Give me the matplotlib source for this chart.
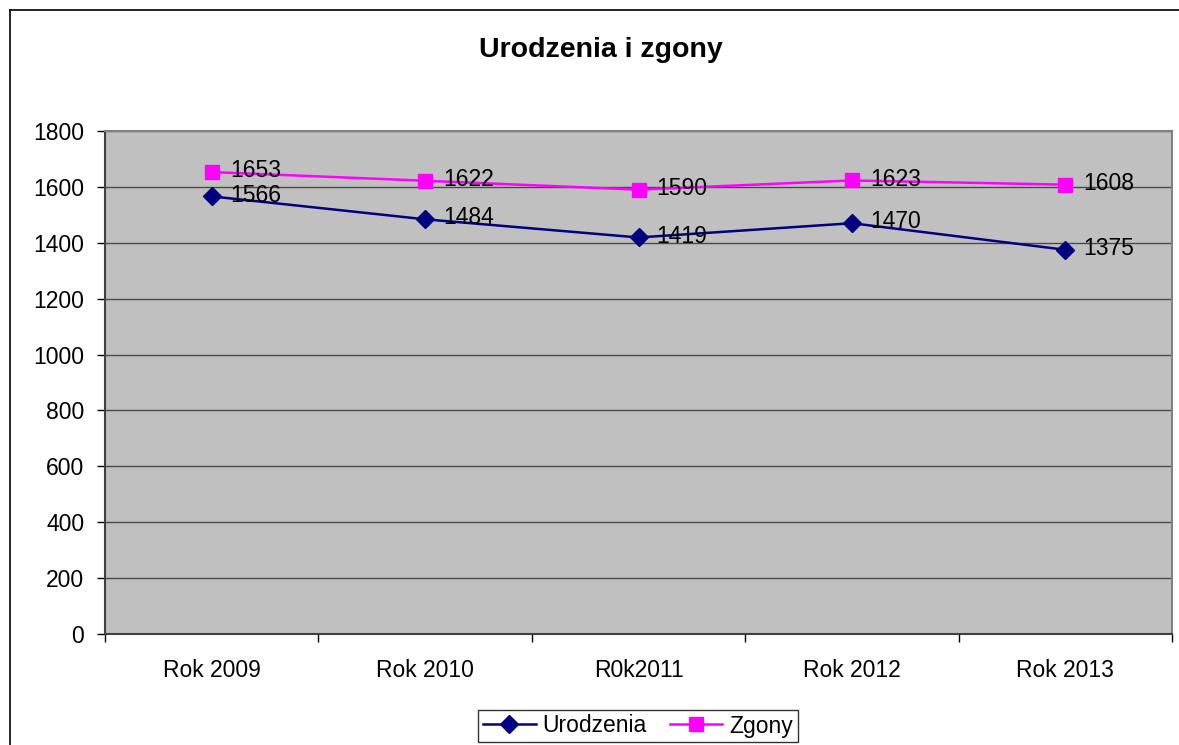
import matplotlib
matplotlib.use("Agg")
import matplotlib.pyplot as plt
from matplotlib.lines import Line2D

plt.rcParams['font.family'] = ['Liberation Sans', 'DejaVu Sans']

categories = ["Rok 2009", "Rok 2010", "R0k2011", "Rok 2012", "Rok 2013"]
urodzenia = [1566, 1484, 1419, 1470, 1375]
zgony = [1653, 1622, 1590, 1623, 1608]
yticks = [0, 200, 400, 600, 800, 1000, 1200, 1400, 1600, 1800]

FS = 16.5
W, H = 1179, 745
fig = plt.figure(figsize=(W / 100, H / 100), dpi=100)
fig.patch.set_facecolor('white')

# outer chart border (left and top visible)
fig.add_artist(Line2D([10 / W, 10 / W], [0, 1 - 10 / H], color='black', lw=1.2, transform=fig.transFigure))
fig.add_artist(Line2D([10 / W, 1], [1 - 10 / H, 1 - 10 / H], color='black', lw=1.2, transform=fig.transFigure))

left, right, top, bottom = 105, 1172, 131, 634
ax = fig.add_axes([left / W, 1 - bottom / H, (right - left) / W, (bottom - top) / H])
ax.set_facecolor('#C0C0C0')

x = list(range(len(categories)))
ax.plot(x, urodzenia, color='#000080', lw=1.8, marker='D', markersize=9,
        markerfacecolor='#000080', markeredgecolor='#000080', label='Urodzenia', zorder=3)
ax.plot(x, zgony, color='#FF00FF', lw=1.8, marker='s', markersize=10,
        markerfacecolor='#FF00FF', markeredgecolor='#FF00FF', label='Zgony', zorder=3)

for xi, v in zip(x, urodzenia):
    ax.annotate(str(v), (xi, v), xytext=(13, 1), textcoords='offset points',
                ha='left', va='center', fontsize=FS, color='black', zorder=4)
for xi, v in zip(x, zgony):
    ax.annotate(str(v), (xi, v), xytext=(13, 1), textcoords='offset points',
                ha='left', va='center', fontsize=FS, color='black', zorder=4)

ax.set_xlim(-0.5, len(categories) - 0.5)
ax.set_ylim(0, 1800)
ax.set_yticks(yticks)
ax.set_yticklabels([str(t) for t in yticks], fontsize=FS)
ax.set_xticks(x)
ax.set_xticklabels(categories, fontsize=FS)
ax.tick_params(axis='x', which='major', length=0, pad=18)
ax.set_xticks([i - 0.5 for i in range(len(categories) + 1)], minor=True)
ax.tick_params(axis='x', which='minor', length=6, width=1, color='black', direction='out')
ax.tick_params(axis='y', length=6, width=1, color='black', direction='out', pad=9)

ax.yaxis.grid(True, color='#4a4a4a', lw=1)
ax.set_axisbelow(True)
for s in ax.spines.values():
    s.set_color('#808080')
    s.set_linewidth(1.5)
ax.spines['bottom'].set_color('#404040')
ax.spines['left'].set_color('#404040')

fig.text(601 / W, 1 - 50 / H, "Urodzenia i zgony", ha='center', va='center',
         fontsize=20.5, fontweight='bold')

leg = fig.legend(loc='center', bbox_to_anchor=(638 / W, 1 - 726 / H), ncol=2, fontsize=FS,
                 frameon=True, fancybox=False, edgecolor='black', handlelength=2.3,
                 columnspacing=1.0, handletextpad=0.3, borderpad=0.2, borderaxespad=0)
leg.get_frame().set_linewidth(1.0)

fig.savefig('out.png', dpi=100)
